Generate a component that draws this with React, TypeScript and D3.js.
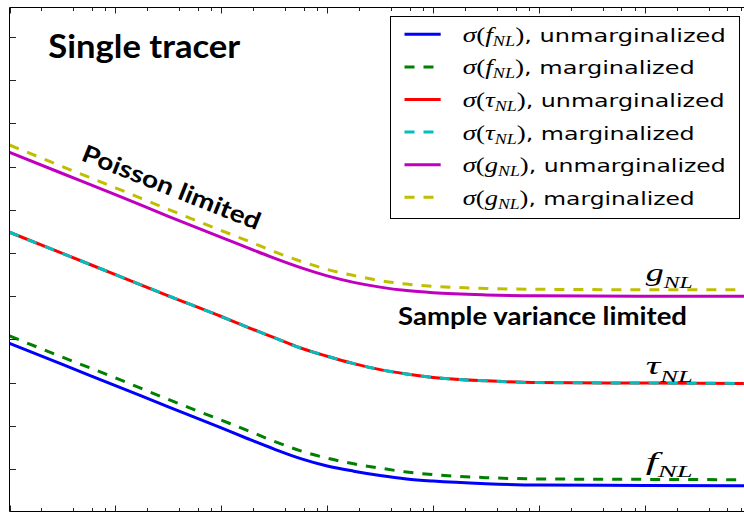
import React from "react";
import * as d3 from "d3";

// x positions (log axis, arbitrary units)
const xs = [1, 3.16, 10, 31.6, 100, 178, 316, 562, 1000, 1780, 3160, 5620, 10000, 31600, 100000, 1000000, 10000000];

// series values (linear y units, one unit = one tick interval)
const fUnmarg = [3.91, 3.42, 2.93, 2.44, 1.95, 1.7, 1.46, 1.24, 1.07, 0.95, 0.85, 0.77, 0.72, 0.66, 0.63, 0.62, 0.61];
const fMarg = [4.08, 3.59, 3.11, 2.61, 2.13, 1.89, 1.64, 1.42, 1.25, 1.12, 1.02, 0.93, 0.87, 0.8, 0.77, 0.76, 0.75];
const tUnmarg = [6.48, 5.99, 5.5, 5.01, 4.53, 4.28, 4.04, 3.8, 3.61, 3.44, 3.3, 3.2, 3.12, 3.04, 3.0, 2.99, 2.98];
const tMarg = [6.48, 5.99, 5.5, 5.01, 4.53, 4.28, 4.04, 3.8, 3.61, 3.44, 3.3, 3.2, 3.12, 3.04, 3.0, 2.99, 2.98];
const gUnmarg = [8.33, 7.84, 7.35, 6.85, 6.36, 6.12, 5.88, 5.66, 5.47, 5.32, 5.21, 5.13, 5.08, 5.03, 5.01, 5.0, 5.0];
const gMarg = [8.5, 8.0, 7.51, 7.01, 6.52, 6.28, 6.03, 5.81, 5.62, 5.48, 5.36, 5.28, 5.23, 5.18, 5.16, 5.15, 5.15];

const paramSymbols = ["f", "f", "τ", "τ", "g", "g"];
const kinds = ["unmarginalized", "marginalized", "unmarginalized", "marginalized", "unmarginalized", "marginalized"];
const curveLabels = ["f", "τ", "g"];

const W = 744;
const H = 512;
const LEFT = 9.5;
const TOP = 7.5;
const BOTTOM = 511.5;

export default function App() {
  const x = d3.scaleLog().domain([1, 1e7]).range([LEFT, 750.8]);
  const y = d3.scaleLinear().domain([0, 11]).range([512.2, 37]);

  const line = d3
    .line<number>()
    .x((_, i) => x(xs[i]))
    .y((d) => y(d))
    .curve(d3.curveMonotoneX);

  const series = [
    { values: fUnmarg, color: "#0000ff", dash: undefined as string | undefined },
    { values: fMarg, color: "#008000", dash: "10,9" },
    { values: tUnmarg, color: "#ff0000", dash: undefined },
    { values: tMarg, color: "#00bfbf", dash: "10,9" },
    { values: gUnmarg, color: "#bf00bf", dash: undefined },
    { values: gMarg, color: "#bfbf00", dash: "10,9" },
  ];

  const majors = [1, 10, 100, 1e3, 1e4, 1e5, 1e6, 1e7];
  const minors: number[] = [];
  x.ticks().forEach((t) => {
    const m = Math.round(t / Math.pow(10, Math.floor(Math.log10(t) + 1e-9)));
    if (m === 2 || m === 4 || m === 6 || m === 8) minors.push(t);
  });
  const yTicks = y.ticks(11);

  const legendTop = 16.5;
  const rowH = 32.6;
  const firstBaseline = 41.7;
  const legendWidths = [263, 232, 262, 232, 263, 232];

  const labelInfo = [
    { sym: curveLabels[0], baseline: 469.7 },
    { sym: curveLabels[1], baseline: 374.3 },
    { sym: curveLabels[2], baseline: 281 },
  ];

  return (
    <svg
      width={W}
      height={H}
      style={{ position: "absolute", left: 0, top: 0, background: "#fff" }}
    >
      <defs>
        <clipPath id="plotclip">
          <rect x={LEFT} y={TOP} width={750 - LEFT} height={BOTTOM - TOP} />
        </clipPath>
      </defs>
      <rect x={0} y={0} width={W} height={H} fill="#fff" />

      {/* curves */}
      <g clipPath="url(#plotclip)">
        {series.map((s, i) => (
          <path
            key={i}
            d={line(s.values) || ""}
            fill="none"
            stroke={s.color}
            strokeWidth={3}
            strokeDasharray={s.dash}
            strokeLinejoin="round"
          />
        ))}
      </g>

      {/* spines */}
      <g stroke="#000" strokeWidth={1} fill="none">
        <line x1={LEFT} y1={TOP} x2={LEFT} y2={BOTTOM} />
        <line x1={LEFT} y1={TOP} x2={W} y2={TOP} />
        <line x1={LEFT} y1={BOTTOM} x2={W} y2={BOTTOM} />
      </g>

      {/* ticks */}
      <g stroke="#222" strokeWidth={1}>
        {majors.map((t, i) => (
          <g key={"M" + i}>
            <line x1={Math.round(x(t)) + 0.5} x2={Math.round(x(t)) + 0.5} y1={TOP} y2={TOP + 6} />
            <line x1={Math.round(x(t)) + 0.5} x2={Math.round(x(t)) + 0.5} y1={BOTTOM} y2={BOTTOM - 6} />
          </g>
        ))}
        {minors.map((t, i) => (
          <g key={"m" + i}>
            <line x1={Math.round(x(t)) + 0.5} x2={Math.round(x(t)) + 0.5} y1={TOP} y2={TOP + 3.5} />
            <line x1={Math.round(x(t)) + 0.5} x2={Math.round(x(t)) + 0.5} y1={BOTTOM} y2={BOTTOM - 3.5} />
          </g>
        ))}
        {yTicks.map((t, i) => (
          <line key={"y" + i} x1={LEFT} x2={LEFT + 6.5} y1={Math.round(y(t)) + 0.5} y2={Math.round(y(t)) + 0.5} />
        ))}
      </g>

      {/* annotations */}
      <text
        x={48.3}
        y={58.3}
        fontFamily="Lato"
        fontWeight={700}
        fontSize={32}
        textLength={192}
        lengthAdjust="spacingAndGlyphs"
        fill="#000"
      >
        Single tracer
      </text>
      <text
        transform="translate(80,160) rotate(21.7)"
        fontFamily="Lato"
        fontWeight={700}
        fontSize={24}
        textLength={190}
        lengthAdjust="spacingAndGlyphs"
        fill="#000"
      >
        Poisson limited
      </text>
      <text
        x={398}
        y={324.5}
        fontFamily="Lato"
        fontWeight={700}
        fontSize={25}
        textLength={289}
        lengthAdjust="spacingAndGlyphs"
        fill="#000"
      >
        Sample variance limited
      </text>

      {/* curve labels */}
      {labelInfo.map((l, i) => (
        <text
          key={"lab" + i}
          x={645.7}
          y={l.baseline}
          fontFamily="Liberation Serif"
          fontStyle="italic"
          fontSize={26}
          textLength={47}
          lengthAdjust="spacingAndGlyphs"
          fill="#000"
        >
          <tspan>{l.sym}</tspan>
          <tspan fontSize={17} dy={7.4}>NL</tspan>
        </text>
      ))}

      {/* legend */}
      <rect
        x={390.5}
        y={legendTop}
        width={349}
        height={202}
        fill="#fff"
        stroke="#000"
        strokeWidth={1}
      />
      {series.map((s, i) => {
        const base = firstBaseline + i * rowH;
        const cy = base - 7.4;
        return (
          <g key={"leg" + i}>
            <line
              x1={404.5}
              x2={440.7}
              y1={cy}
              y2={cy}
              stroke={s.color}
              strokeWidth={3}
              strokeDasharray={s.dash}
            />
            <text
              x={462.7}
              y={base}
              fontFamily="DejaVu Sans"
              fontSize={18.5}
              textLength={legendWidths[i]}
              lengthAdjust="spacingAndGlyphs"
              fill="#000"
            >
              <tspan fontFamily="Liberation Serif" fontStyle="italic" fontSize={21}>σ</tspan>
              <tspan fontFamily="Liberation Serif" fontSize={21}>(</tspan>
              <tspan fontFamily="Liberation Serif" fontStyle="italic" fontSize={21}>{paramSymbols[i]}</tspan>
              <tspan fontFamily="Liberation Serif" fontStyle="italic" fontSize={14} dy={4}>NL</tspan>
              <tspan fontFamily="Liberation Serif" fontSize={21} dy={-4}>)</tspan>
              <tspan>{", " + kinds[i]}</tspan>
            </text>
          </g>
        );
      })}
    </svg>
  );
}
